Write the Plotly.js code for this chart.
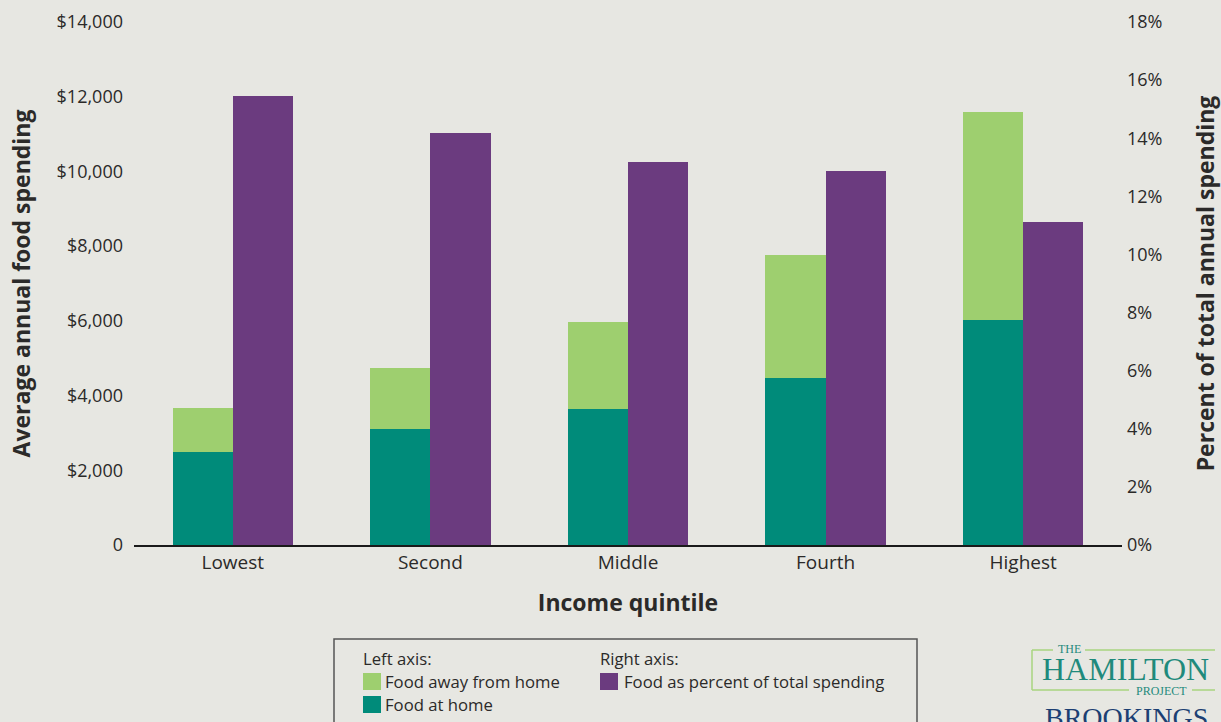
<!DOCTYPE html>
<html>
<head>
<meta charset="utf-8">
<script src="https://cdn.plot.ly/plotly-3.0.1.min.js"></script>
<style>
  html, body { margin: 0; padding: 0; background: #e7e7e2; }
  #chart { width: 1221px; height: 722px; }
</style>
</head>
<body>
<div id="chart"></div>
<script>
// ---- Data ----
const categories = ['Lowest', 'Second', 'Middle', 'Fourth', 'Highest'];
const foodAtHome = [2490, 3100, 3640, 4470, 6020];
const foodAwayFromHome = [1180, 1640, 2330, 3290, 5570];
const foodSharePct = [15.45, 14.18, 13.18, 12.87, 11.12];

const leftTickVals = [0, 2000, 4000, 6000, 8000, 10000, 12000, 14000];
const leftTickText = ['0', '$2,000', '$4,000', '$6,000', '$8,000', '$10,000', '$12,000', '$14,000'];
const rightTickVals = [0, 2, 4, 6, 8, 10, 12, 14, 16, 18];
const rightTickText = ['0%', '2%', '4%', '6%', '8%', '10%', '12%', '14%', '16%', '18%'];

const seriesNames = ['Food away from home', 'Food at home', 'Food as percent of total spending'];

// ---- Styling ----
const FONT = 'Open Sans, sans-serif';
const TXT = '#2b2a29';
const BG = '#e7e7e2';
const TEAL = '#008b7a';
const LIGHTGREEN = '#9ecf6f';
const PURPLE = '#6b3b7f';
const W = 1221, H = 722;
const M = { l: 134, r: 99, t: 22, b: 177, autoexpand: false };
const pw = W - M.l - M.r, ph = H - M.t - M.b;
const px = v => (v - M.l) / pw;
const py = v => (H - M.b - v) / ph;
const BW = 0.305;

const traces = [
  {
    type: 'bar', name: seriesNames[1], x: categories, y: foodAtHome,
    marker: { color: TEAL }, width: BW, offset: -BW,
    xaxis: 'x', yaxis: 'y', hoverinfo: 'x+y', showlegend: false
  },
  {
    type: 'bar', name: seriesNames[0], x: categories, y: foodAwayFromHome,
    marker: { color: LIGHTGREEN }, width: BW, offset: -BW,
    xaxis: 'x', yaxis: 'y', hoverinfo: 'x+y', showlegend: false
  },
  {
    type: 'bar', name: seriesNames[2], x: categories, y: foodSharePct,
    marker: { color: PURPLE }, width: BW, offset: 0,
    xaxis: 'x', yaxis: 'y2', hoverinfo: 'x+y', showlegend: false
  }
];

// ---- Legend (drawn manually to match the boxed two-column key) ----
const shapes = [];
const annotations = [];
function rectPx(x0, y0, x1, y1, fill, line) {
  shapes.push({ type: 'rect', xref: 'paper', yref: 'paper', x0: px(x0), x1: px(x1), y0: py(y1), y1: py(y0),
    fillcolor: fill, line: line || { width: 0 } });
}
function textPx(x, y, text, font, xanchor) {
  annotations.push({ xref: 'paper', yref: 'paper', x: px(x), y: py(y), text: text, showarrow: false,
    xanchor: xanchor || 'left', yanchor: 'middle', font: font });
}
const LF = { family: FONT, size: 16.7, color: TXT };
rectPx(334, 639, 917, 735, BG, { color: '#555', width: 1.5 });
textPx(361, 658, 'Left axis:', LF);
rectPx(363, 673, 381, 690, LIGHTGREEN);
textPx(383, 681, seriesNames[0], LF);
rectPx(363, 696, 381, 713, TEAL);
textPx(383, 704, seriesNames[1], LF);
textPx(598, 658, 'Right axis:', LF);
rectPx(600, 673, 618, 690, PURPLE);
textPx(622, 681, seriesNames[2], LF);

// ---- Logo ----
const lineColor = '#a9d47f';
function linePx(x0, y0, x1, y1) {
  shapes.push({ type: 'line', xref: 'paper', yref: 'paper', x0: px(x0), x1: px(x1), y0: py(y0), y1: py(y1),
    line: { color: lineColor, width: 1.5 } });
}
linePx(1032, 650, 1053, 650);
linePx(1085, 650, 1215, 650);
linePx(1032, 650, 1032, 690);
linePx(1032, 690, 1129, 690);
linePx(1192, 690, 1215, 690);
const SERIF = 'Liberation Serif, serif';
textPx(1069, 649, 'THE', { family: SERIF, size: 12, color: '#1f8a7c' }, 'center');
textPx(1125, 669, 'HAMILTON', { family: SERIF, size: 32, color: '#1f8a7c' }, 'center');
textPx(1161, 691, 'PROJECT', { family: SERIF, size: 12, color: '#1f8a7c' }, 'center');
textPx(1126, 717, 'BROOKINGS', { family: SERIF, size: 28, color: '#1c3f73' }, 'center');

const layout = {
  width: W, height: H,
  margin: M,
  paper_bgcolor: BG, plot_bgcolor: BG,
  font: { family: FONT, color: TXT, size: 18 },
  barmode: 'stack',
  showlegend: false,
  xaxis: {
    type: 'category', range: [-0.5, 4.5],
    showline: true, linecolor: '#1a1a1a', linewidth: 1.5,
    showgrid: false, zeroline: false, ticks: '',
    tickfont: { family: FONT, size: 19, color: TXT },
    title: { text: 'Income quintile', font: { family: FONT, size: 23, color: TXT, weight: 'bold' }, standoff: 20 }
  },
  yaxis: {
    range: [0, 14000], tickvals: leftTickVals, ticktext: leftTickText,
    showgrid: false, zeroline: false, showline: false, ticks: '',
    ticklabelstandoff: 10,
    tickfont: { family: FONT, size: 18, color: TXT },
    title: { text: 'Average annual food spending', font: { family: FONT, size: 23, color: TXT, weight: 'bold' }, standoff: 19 }
  },
  yaxis2: {
    overlaying: 'y', side: 'right',
    range: [0, 18], tickvals: rightTickVals, ticktext: rightTickText,
    showgrid: false, zeroline: false, showline: false, ticks: '',
    ticklabelstandoff: 4,
    tickfont: { family: FONT, size: 18, color: TXT },
    title: { text: 'Percent of total annual spending', font: { family: FONT, size: 23, color: TXT, weight: 'bold' }, standoff: 36 }
  },
  shapes: shapes,
  annotations: annotations
};

Plotly.newPlot('chart', traces, layout, { displayModeBar: false, staticPlot: true });
</script>
</body>
</html>
